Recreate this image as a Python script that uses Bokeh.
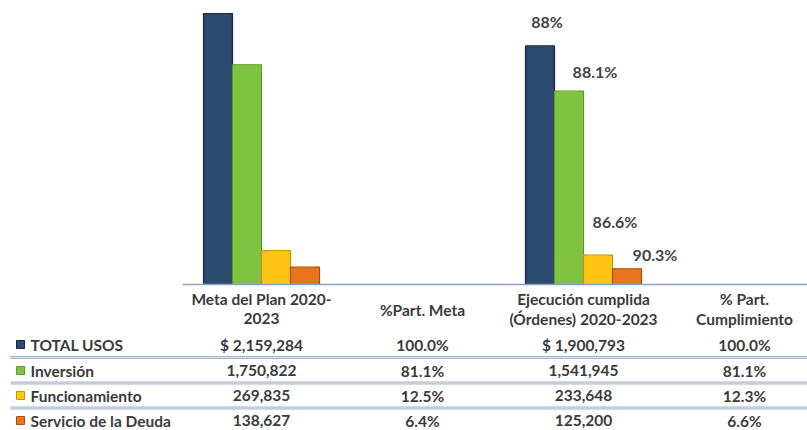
from bokeh.plotting import figure
from bokeh.models import ColumnDataSource, Range1d
from bokeh.core.properties import value
from bokeh.embed import file_html
from bokeh.resources import INLINE

# ---------------- data ----------------
series = ["TOTAL USOS", "Inversión", "Funcionamiento", "Servicio de la Deuda"]
meta_plan = [2159284, 1750822, 269835, 138627]
meta_pct = ["100.0%", "81.1%", "12.5%", "6.4%"]
ejecucion = [1900793, 1541945, 233648, 125200]
cumpl_pct = ["100.0%", "81.1%", "12.3%", "6.6%"]
avance_labels = ["88%", "88.1%", "86.6%", "90.3%"]
col_headers = [["Meta del Plan 2020-", "2023"], ["%Part. Meta"],
               ["Ejecución cumplida", "(Órdenes) 2020-2023"], ["% Part.", "Cumplimiento"]]

# ---------------- styles ----------------
fills = ["#2c4a70", "#80c242", "#ffc414", "#e8741c"]
edges = ["#17263b", "#5f9a2a", "#c9930a", "#a9500d"]
FONT = value("Lato")
TXT = "#3b3b3b"
TSIZE = "15.5px"

W, H = 807, 430
OX, OY = 0, 0
# layout: reference pixel coordinates for the y (flipped) axis,
# column units for the x axis (column i centred at i)
col0_px, col_step_px = 261.0, 161.0
x_lo = (OX - col0_px) / col_step_px
x_hi = (OX + W - col0_px) / col_step_px
base_px, top_px = 284.0, 13.0          # baseline and top of tallest bar
k = (base_px - top_px) / max(meta_plan)
val_lo = -(OY + H - base_px) / k
val_hi = (base_px - OY) / k

p = figure(width=W, height=H, output_backend="svg", toolbar_location=None,
           x_range=Range1d(x_lo, x_hi), y_range=Range1d(OY + H, OY),
           x_axis_location=None, y_axis_location=None, min_border=0,
           outline_line_color=None, background_fill_color="white")
p.grid.visible = False
p.extra_y_ranges = {"val": Range1d(val_lo, val_hi)}

bw = 29.0 / col_step_px
groups = [(0, meta_plan), (2, ejecucion)]
for gi, (cx, vals) in enumerate(groups):
    xs = [cx + (i - 1.5) * bw for i in range(len(vals))]
    src = ColumnDataSource(dict(x=xs, top=vals, fill=fills, edge=edges))
    p.vbar(x="x", top="top", bottom=0, width=bw, source=src, y_range_name="val",
           fill_color="fill", line_color="edge", line_width=1.2)
    # inner bevel face
    p.vbar(x="x", top="top", bottom=0, width=bw * 0.72, source=src, y_range_name="val",
           fill_color="fill", fill_alpha=0.55, line_color=None)

# percentage labels above execution bars
lab_dx = [7, 26, 17, 28]
lab_dy = [-24, -19, -34, -14]
xs2 = [2 + (i - 1.5) * bw for i in range(4)]
lsrc = ColumnDataSource(dict(x=xs2, y=ejecucion, t=avance_labels, dx=lab_dx, dy=lab_dy))
p.text(x="x", y="y", text="t", source=lsrc, y_range_name="val", x_offset="dx", y_offset="dy",
       text_align="center", text_baseline="middle", text_font=FONT,
       text_font_style="bold", text_font_size="16px", text_color="#444444")

# baseline
p.segment(x0=[(182 - col0_px) / col_step_px], x1=[x_hi], y0=[base_px], y1=[base_px],
          line_color="#8da2c0", line_width=1.5)

# ---------------- table ----------------
row_y = [344, 370, 395, 420]
hdr_x, hdr_y, hdr_t = [], [], []
for ci, lines in enumerate(col_headers):
    ys = [298, 318] if len(lines) == 2 else [309]
    for ln, yy in zip(lines, ys):
        hdr_x.append(ci)
        hdr_y.append(yy)
        hdr_t.append(ln)
p.text(x=hdr_x, y=hdr_y, text=hdr_t, text_align="center", text_baseline="middle",
       text_font=FONT, text_font_style="bold", text_font_size=TSIZE, text_color=TXT)

def fmt(v, first):
    s = f"{v:,}"
    return ("$ " + s) if first else s

cells_x, cells_y, cells_t = [], [], []
for ri in range(4):
    row = [fmt(meta_plan[ri], ri == 0), meta_pct[ri], fmt(ejecucion[ri], ri == 0), cumpl_pct[ri]]
    for ci, t in enumerate(row):
        cells_x.append(ci)
        cells_y.append(row_y[ri])
        cells_t.append(t)
p.text(x=cells_x, y=cells_y, text=cells_t, text_align="center", text_baseline="middle",
       text_font=FONT, text_font_style="bold", text_font_size=TSIZE, text_color=TXT)

name_x = (30 - col0_px) / col_step_px
p.text(x=[name_x] * 4, y=row_y, text=series, text_align="left", text_baseline="middle",
       text_font=FONT, text_font_style="bold", text_font_size=TSIZE, text_color=TXT)
sq_x = (20 - col0_px) / col_step_px
p.scatter(x=[sq_x] * 4, y=row_y, marker="square", size=8, fill_color=fills,
          line_color=edges, line_width=1)

# separators between rows
sep_y = [(row_y[i] + row_y[i + 1]) / 2 for i in range(3)]
sep_x0 = (10 - col0_px) / col_step_px
for yy in sep_y:
    p.segment(x0=[sep_x0], x1=[x_hi], y0=[yy], y1=[yy], line_color="#a7b5c8", line_width=3)
    p.segment(x0=[sep_x0], x1=[x_hi], y0=[yy], y1=[yy], line_color="#dfe5ee", line_width=1)

open("out.html", "w").write(file_html(p, INLINE))
